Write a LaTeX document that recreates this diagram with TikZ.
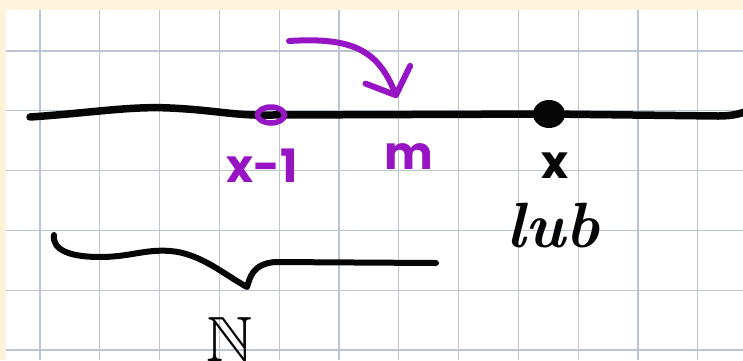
\documentclass[tikz,border=0pt]{standalone}
\usepackage{amssymb}
\usepackage{fontspec}
\newfontfamily\handfont{Poppins}
\usetikzlibrary{arrows.meta, positioning, shapes.geometric}
\definecolor{paper}{RGB}{253,242,218}
\definecolor{gridblue}{RGB}{188,196,210}
\definecolor{ink}{RGB}{6,6,6}
\definecolor{penpurple}{RGB}{150,20,196}

\begin{document}
\begin{tikzpicture}[
  x=1pt, y=-1pt,
  gridline/.style = {draw=gridblue, line width=1.3pt},
  pen/.style      = {line width=6.5pt, line cap=round, line join=round},
  lbl/.style      = {font=\handfont\bfseries\fontsize{46}{46}\selectfont, inner sep=0pt},
  hollow/.style   = {ellipse, draw=penpurple, line width=5.5pt,
                     minimum width=27pt, minimum height=16pt, inner sep=0pt},
  solid/.style    = {ellipse, fill=ink, minimum width=32pt,
                     minimum height=28pt, inner sep=0pt}
]
\useasboundingbox (0,0) rectangle (743,360);

% paper and squares
\fill[paper] (0,0) rectangle (743,360);
\fill[white] (6,10) rectangle (743,360);
\foreach \i in {0,...,11}
  \draw[gridline] ({40+59.8*\i},10) -- ({40+59.8*\i},360);
\foreach \j in {0,...,5}
  \draw[gridline] (6,{51+59.8*\j}) -- (743,{51+59.8*\j});

% number line
\coordinate (lineL) at (30,117);
\coordinate (lineR) at (750,110);
\coordinate (pxm1)  at (271,115);
\coordinate (px)    at (549,114);
\draw[pen, ink, line width=7.5pt] (lineL) .. controls (90,113) and (130,106) .. (170,108)
  .. controls (215,110) and (235,116) .. (pxm1) -- (px) -- (718,116)
  .. controls (735,116) and (742,113) .. (lineR);

\node[hollow] (xm1) at (pxm1) {};
\node[solid]  (xpt) at (px) {};

% labels
\node[lbl, text=penpurple] (lxm1) at (262,166) {x-1};
\node[lbl, text=penpurple] (lm)   at (409,157) {m};
\node[lbl, text=ink]       (lx)   at (555,166) {x};
\node[font=\fontsize{64}{64}\selectfont\bfseries\itshape, text=ink, inner sep=0pt] (llub) at (553,226) {lub};

% move arrow
\coordinate (arcS) at (289,41);
\coordinate (arcE) at (397,98);
\draw[pen, penpurple, line width=6pt, -{Straight Barb[length=22pt, width=48pt, round]}]
  (arcS) .. controls (352,37) and (378,50) .. (arcE);

% brace over the set
\coordinate (braceL)   at (54,235);
\coordinate (braceTip) at (247,287);
\coordinate (braceR)   at (436,263);
\draw[pen, ink, line width=6pt] (braceL) .. controls (52,250) and (70,257) .. (100,257)
  .. controls (130,257) and (145,249) .. (170,251)
  .. controls (200,253) and (225,275) .. (braceTip)
  .. controls (250,278) and (252,264) .. (275,262) -- (braceR);
\node[font=\fontsize{64}{64}\selectfont, text=ink, inner sep=0pt, below=30pt of braceTip, xshift=-17pt] (nat) {$\mathbb{N}$};

\end{tikzpicture}
\end{document}
